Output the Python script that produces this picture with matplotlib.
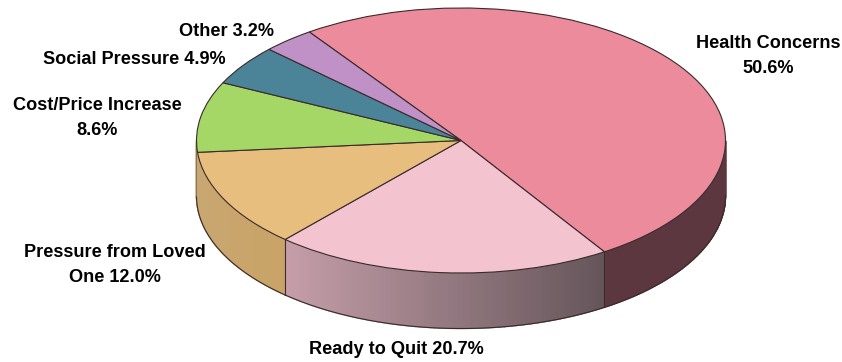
import numpy as np
import matplotlib
matplotlib.use("Agg")
import matplotlib.pyplot as plt
from matplotlib.colors import to_rgb

categories = ["Health Concerns", "Ready to Quit", "Pressure from Loved One",
              "Cost/Price Increase", "Social Pressure", "Other"]
values = [50.6, 20.7, 12.0, 8.6, 4.9, 3.2]
top_colors = ["#ec8b9c", "#f3c3cf", "#e8be7f", "#a5d766", "#4b8498", "#bf91c6"]
wall_left = ["#5c3740", "#c59ea9", "#c9a771", "#c9a771", "#c9a771", "#c9a771"]
wall_right = ["#5c3740", "#64555a", "#c9a366", "#c9a771", "#c9a771", "#c9a771"]
labels = ["Health Concerns\n50.6%", "Ready to Quit 20.7%", "Pressure from Loved\nOne 12.0%",
          "Cost/Price Increase\n8.6%", "Social Pressure 4.9%", "Other 3.2%"]
label_px = [(768, 56), (396, 349), (115, 265), (97, 118), (134, 60), (227, 31)]

W, H = 842, 362
CX, CY, RX, RY, DEPTH = 461, 140.5, 264.5, 132.5, 55.5
START = 125.0
EDGE = "#3a2a2a"

fig = plt.figure(figsize=(W / 100, H / 100), dpi=100)
ax = fig.add_axes([0, 0, 1, 1])
ax.pie(values, colors=top_colors, startangle=START, counterclock=False, radius=1,
       wedgeprops=dict(edgecolor=EDGE, linewidth=0.8, zorder=5))
ax.set_aspect("auto")
ax.set_xlim((0 - CX) / RX, (W - CX) / RX)
ax.set_ylim((CY - H) / RY, CY / RY)
d = DEPTH / RY

# side walls: the front-facing part of each slice, shaded left to right
edges = START - np.cumsum([0] + values) * 3.6
for i in range(3):
    a0, a1 = edges[i], edges[i + 1]
    lo, hi = (-180 if i == 2 else a1), min(a0, 0)
    th = np.radians(np.linspace(hi, lo, 90))
    xs = np.cos(th)
    xmin, xmax = xs.min(), xs.max()
    c0, c1 = np.array(to_rgb(wall_left[i])), np.array(to_rgb(wall_right[i]))
    for k in range(len(th) - 1):
        t = (0.5 * (xs[k] + xs[k + 1]) - xmin) / (xmax - xmin)
        col = c0 + (c1 - c0) * t
        px = [xs[k], xs[k + 1], xs[k + 1], xs[k]]
        py = [np.sin(th[k]), np.sin(th[k + 1]), np.sin(th[k + 1]) - d, np.sin(th[k]) - d]
        ax.fill(px, py, facecolor=col, edgecolor=col, lw=1.0, zorder=2)
    ax.plot(xs, np.sin(th) - d, color=EDGE, lw=0.8, zorder=3)
    if i < 2:
        r = np.radians(lo)
        ax.plot([np.cos(r)] * 2, [np.sin(r), np.sin(r) - d], color=EDGE, lw=0.8, zorder=3)
for ang in (0, 180):
    r = np.radians(ang)
    ax.plot([np.cos(r)] * 2, [0, -d], color="#7a6a60", lw=0.6, zorder=3)

for txt, (px, py) in zip(labels, label_px):
    ax.text((px - CX) / RX, (CY - py) / RY, txt, ha="center", va="center",
            family="Liberation Sans", fontweight="bold", fontsize=13.1,
            linespacing=1.65, color="black", zorder=6)
ax.axis("off")
fig.savefig("out.png", dpi=100)
